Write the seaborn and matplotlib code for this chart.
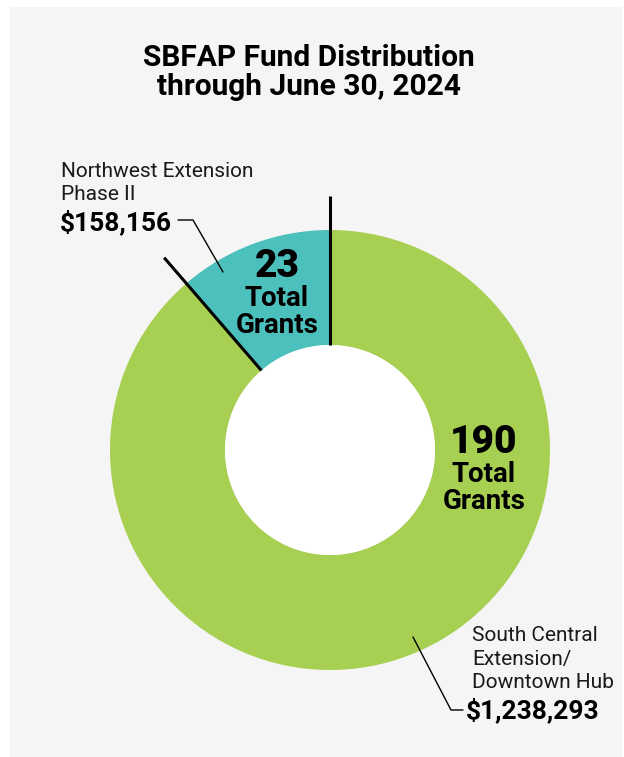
import numpy as np
import matplotlib
matplotlib.use("Agg")
import matplotlib.pyplot as plt
from matplotlib.patches import Rectangle, Circle
import seaborn as sns

# data
regions = ["Northwest Extension\nPhase II", "South Central\nExtension/\nDowntown Hub"]
amounts = [158156, 1238293]
grants = [23, 190]
colors = ["#4cc0bc", "#a7cf52"]

sns.set_theme(style="white")
plt.rcParams['font.family'] = ['Roboto', 'DejaVu Sans']
plt.rcParams['text.color'] = 'black'

W, H = 624, 757
fig = plt.figure(figsize=(W / 100, H / 100), dpi=100)
fig.patch.set_facecolor("white")
ax = fig.add_axes([0, 0, 1, 1])

# gray panel
ax.add_patch(Rectangle((10, 0), W - 12, H - 7, facecolor="#f5f5f5", edgecolor="none", zorder=0))

cx, cy = 330, H - 450
r_out, r_in = 220, 105

ax.pie(amounts, colors=colors, startangle=90, counterclock=True, radius=r_out, center=(cx, cy),
       wedgeprops=dict(width=r_out - r_in, edgecolor="none"), frame=True)
ax.set_xlim(0, W)
ax.set_ylim(0, H)
ax.set_aspect("equal")
ax.axis("off")
ax.add_patch(Circle((cx, cy), r_in, facecolor="white", edgecolor="none", zorder=3))

# divider lines
total = sum(amounts)
for ang in [90, 90 + 360 * amounts[0] / total]:
    a = np.deg2rad(ang)
    ax.plot([cx + r_in * np.cos(a), cx + 254 * np.cos(a)],
            [cy + r_in * np.sin(a), cy + 254 * np.sin(a)], color="black", lw=2.2,
            solid_capstyle="butt", zorder=4)

def Y(y):
    return H - y

# title
ax.text(309, Y(66), "SBFAP Fund Distribution", ha="center", va="baseline",
        fontsize=21.5, fontweight="bold")
ax.text(309, Y(95), "through June 30, 2024", ha="center", va="baseline",
        fontsize=21.5, fontweight="bold")

# grants counts
ax.text(277, Y(277), str(grants[0]), ha="center", va="baseline", fontsize=28, fontweight=900, zorder=5)
ax.text(277, Y(306), "Total", ha="center", va="baseline", fontsize=20, fontweight="bold", zorder=5)
ax.text(277, Y(333), "Grants", ha="center", va="baseline", fontsize=20, fontweight="bold", zorder=5)

ax.text(484, Y(453), str(grants[1]), ha="center", va="baseline", fontsize=28, fontweight=900, zorder=5)
ax.text(484, Y(482), "Total", ha="center", va="baseline", fontsize=20, fontweight="bold", zorder=5)
ax.text(484, Y(509), "Grants", ha="center", va="baseline", fontsize=20, fontweight="bold", zorder=5)

# region labels
nw_lines = regions[0].split("\n")
for i, ln in enumerate(nw_lines):
    ax.text(61, Y(177 + 23 * i), ln, ha="left", va="baseline", fontsize=15, color="#1a1a1a")
ax.text(60, Y(230), f"${amounts[0]:,}", ha="left", va="baseline", fontsize=19, fontweight="bold")

sc_lines = regions[1].split("\n")
for i, ln in enumerate(sc_lines):
    ax.text(472, Y(641 + 23.5 * i), ln, ha="left", va="baseline", fontsize=15, color="#1a1a1a")
ax.text(466, Y(718), f"${amounts[1]:,}", ha="left", va="baseline", fontsize=19, fontweight="bold")

# leader lines
ax.plot([178, 193, 223], [Y(220), Y(220), Y(272)], color="black", lw=1, zorder=5)
ax.plot([413, 451, 463], [Y(637), Y(710), Y(710)], color="black", lw=1, zorder=5)

fig.savefig("out.png", dpi=100, facecolor=fig.get_facecolor())
